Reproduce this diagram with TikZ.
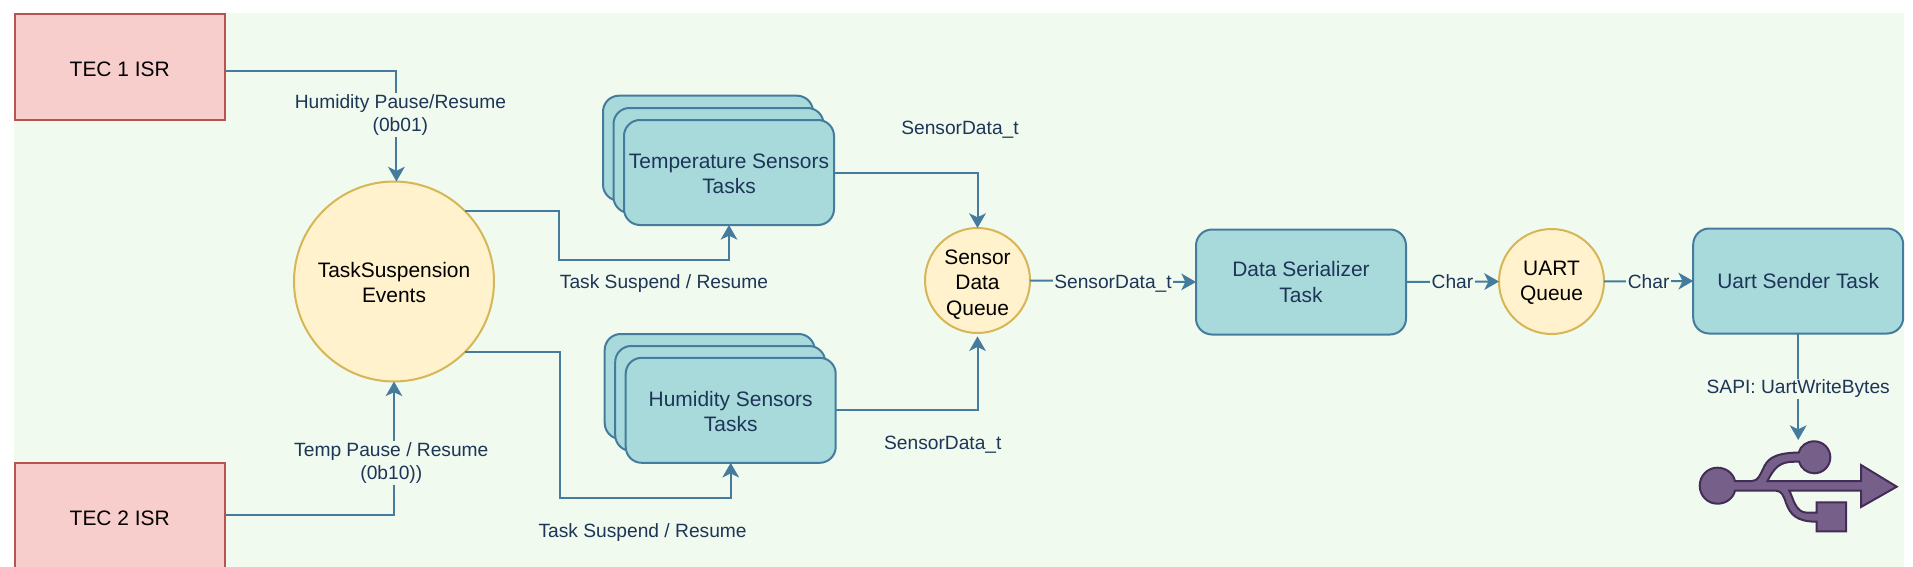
\documentclass[tikz,border=0pt]{standalone}
\usepackage{fontspec}
\setmainfont{Liberation Sans}
\usetikzlibrary{arrows.meta}

\definecolor{bgpale}{HTML}{F1FAEE}
\definecolor{linkblue}{HTML}{457B9D}
\definecolor{taskfill}{HTML}{A8DADC}
\definecolor{textnavy}{HTML}{1D3557}
\definecolor{isrfill}{HTML}{F8CECC}
\definecolor{isrline}{HTML}{B85450}
\definecolor{queuefill}{HTML}{FFF2CC}
\definecolor{queueline}{HTML}{D6B656}
\definecolor{usbfill}{HTML}{76608A}
\definecolor{usbline}{HTML}{432D57}

% tall first line pushes a node's text down a little
\newcommand{\lift}[1]{\rule{0pt}{#1}}

\tikzset{
  isrbox/.style={draw=isrline, fill=isrfill, line width=1.5pt, minimum width=157.5pt, minimum height=78.75pt, inner sep=0pt, outer sep=0pt, align=center, font=\fontsize{15.7}{19.2}\selectfont},
  taskbox/.style={draw=linkblue, fill=taskfill, text=textnavy, line width=1.5pt, rounded corners=12pt, minimum width=157.5pt, minimum height=78.75pt, inner sep=0pt, outer sep=0pt, align=center, font=\fontsize{15.7}{19.2}\selectfont},
  queue/.style={circle, draw=queueline, fill=queuefill, line width=1.5pt, minimum size=78.75pt, inner sep=0pt, outer sep=0pt, align=center, font=\fontsize{15.7}{19.2}\selectfont},
  link/.style={draw=linkblue, line width=1.5pt, -{Stealth[length=11pt, width=12.5pt, inset=3pt]}},
  lbl/.style={text=textnavy, inner sep=1pt, align=center, font=\fontsize{14.4}{17.25}\selectfont},
  onlink/.style={lbl, fill=bgpale},
}

\begin{document}
\begin{tikzpicture}[x=0.75pt, y=-0.75pt]
    \clip (0,0) rectangle (1913,567);
    \fill[bgpale] (14,13.5) rectangle (1904,567);

    % Interrupts
    \node[isrbox] (tec1) at (119.75,67) {\lift{15pt}TEC 1 ISR};
    \node[isrbox] (tec2) at (119.75,515.2) {\lift{15pt}TEC 2 ISR};

    % Event group
    \node[queue, minimum size=150pt] (events) at (394,281.5) {\lift{13pt}TaskSuspension\\Events};

    % Sensor tasks
    \node[taskbox] (tempback) at (708,148.2) {};
    \node[taskbox] (tempmid) at (718.5,160.5) {};
    \node[taskbox] (temp) at (729,172.5) {\lift{13pt}Temperature Sensors\\Tasks};
    \node[taskbox] (humback) at (709.7,386.5) {};
    \node[taskbox] (hummid) at (720.2,398.5) {};
    \node[taskbox] (hum) at (730.7,410.3) {\lift{13pt}Humidity Sensors\\Tasks};

    % Queues and output tasks
    \node[queue] (dataq) at (977.5,280.5) {\lift{17pt}Sensor\\Data\\Queue};
    \node[taskbox] (serial) at (1301,282) {Data Serializer\\Task};
    \node[queue] (uartq) at (1551.5,281.5) {\lift{13pt}UART\\Queue};
    \node[taskbox] (sender) at (1798.2,281) {Uart Sender Task};

    % USB symbol
    \coordinate (usbtop) at (1798.2,440);
    \draw[usbline, fill=usbfill, line width=1.5pt]
        (1735,481) -- (1752,481)
        .. controls (1758,481) and (1760,475) .. (1763,469)
        .. controls (1767,460) and (1772,453) .. (1798.7,452.5)
        .. controls (1800.5,446) and (1806.5,441.3) .. (1814.3,441.3)
        .. controls (1823.1,441.3) and (1830.3,448.5) .. (1830.3,457.3)
        .. controls (1830.3,466.1) and (1823.1,473.3) .. (1814.3,473.3)
        .. controls (1807,473.3) and (1801,468.5) .. (1799,461.7)
        .. controls (1785,461.7) and (1777,461.5) .. (1767.5,481)
        -- (1861,481) -- (1861,465) -- (1896.7,486.7) -- (1861,507) -- (1861,490.7)
        -- (1789.3,490.7)
        .. controls (1793,497) and (1795,512.7) .. (1807,512.7)
        -- (1816.7,512.7) -- (1816.7,502.3) -- (1846,502.3) -- (1846,531.3) -- (1816.7,531.3) -- (1816.7,521.7)
        .. controls (1796,521.7) and (1790,514) .. (1786,503)
        .. controls (1784,497) and (1782,490.7) .. (1776,490.7)
        -- (1735,490.7)
        .. controls (1733,498.5) and (1726,503.7) .. (1717.3,503.7)
        .. controls (1707.5,503.7) and (1699.7,495.6) .. (1699.7,485.7)
        .. controls (1699.7,475.8) and (1707.5,467.7) .. (1717.3,467.7)
        .. controls (1726,467.7) and (1733,473) .. cycle;

    % Connectors
    \draw[link] ([yshift=-3pt]tec1.east) -| ([xshift=1.8pt]events.north) node[onlink, pos=0.7, xshift=3pt] {Humidity Pause/Resume\\(0b01)};
    \draw[link] (tec2.east) -| (events.south) node[onlink, pos=0.7, xshift=-2pt, yshift=-1pt] {Temp Pause / Resume\\(0b10))};
    \draw[link] (events.45) -| (559,260) -| (temp.south);
    \draw[link] (events.-45) -| (560,498) -| (hum.south);
    \draw[link] (temp.east) -| (dataq.north);
    \draw[link, shorten >=2.5pt] (hum.east) -| (dataq.south);
    \draw[link] (dataq.east) -- (serial.west) node[onlink, midway, yshift=-1.5pt] {SensorData\_t};
    \draw[link] (serial.east) -- (uartq.west) node[onlink, midway] {Char};
    \draw[link] (uartq.east) -- (sender.west) node[onlink, midway] {Char};
    \draw[link] (sender.south) -- (usbtop) node[onlink, pos=0.52] {SAPI: UartWriteBytes};

    % Free labels
    \node[lbl] (tasklabeltop) at (664,283.2) {Task Suspend / Resume};
    \node[lbl] (tasklabelbot) at (642.6,532.2) {Task Suspend / Resume};
    \node[lbl] (datalabeltop) at (960,129.5) {SensorData\_t};
    \node[lbl] (datalabelbot) at (942.8,444.5) {SensorData\_t};
\end{tikzpicture}
\end{document}
